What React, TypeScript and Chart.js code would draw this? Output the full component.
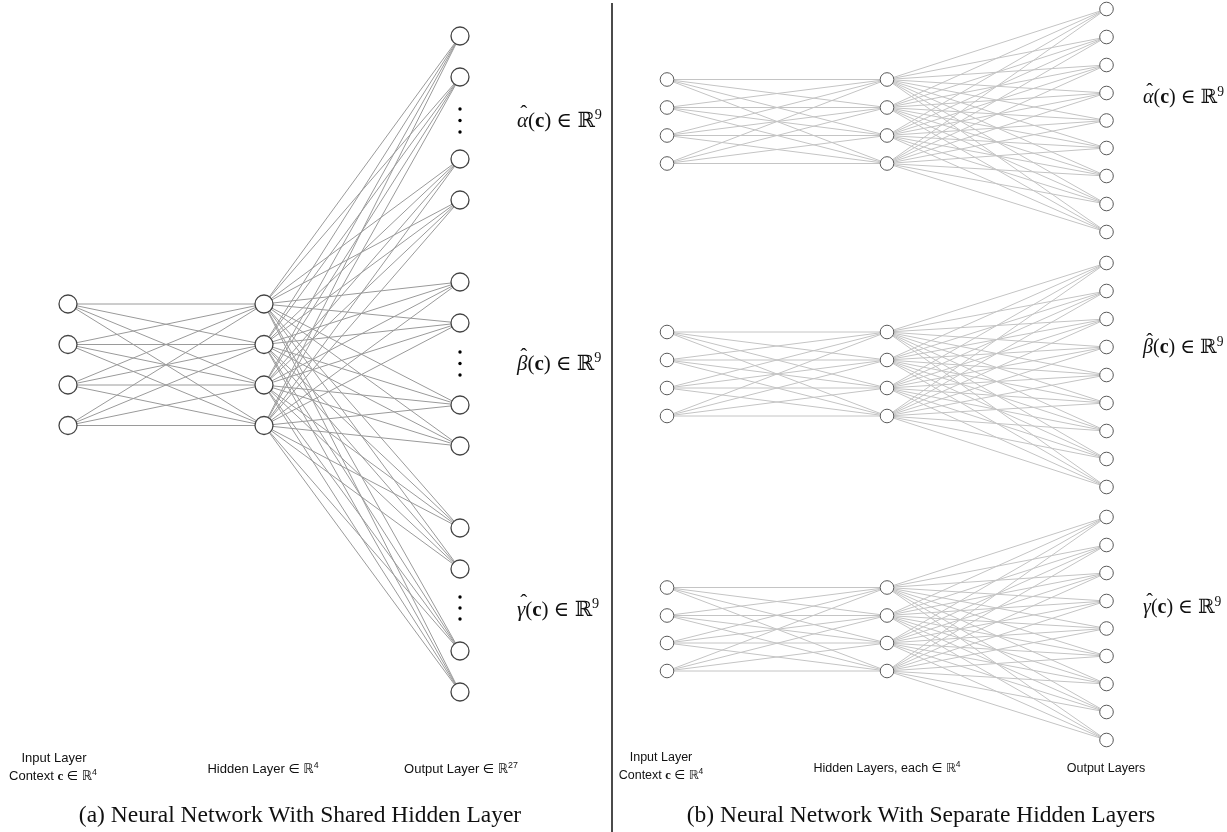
import React, { useEffect, useRef } from "react";
import { Chart, registerables } from "chart.js";

Chart.register(...registerables);

const W = 1227;
const H = 832;

// ---- Panel (a): shared hidden layer (diagram coordinates) ----
const A_LAYER_X = [68, 264, 460];
const A_INPUT_Y = [304, 344.5, 385, 425.5];
const A_HIDDEN_Y = [304, 344.5, 385, 425.5];
const A_OUTPUT_Y = [36, 77, 159, 200, 282, 323, 405, 446, 528, 569, 651, 692];
const A_ELLIPSIS_Y = [109, 120.5, 132, 352, 363.5, 375, 597, 608, 619];

// ---- Panel (b): separate hidden layers ----
const B_LAYER_X = [667, 887, 1106.5];
const B_INPUT_Y = [
  [79.5, 107.5, 135.5, 163.5],
  [332, 360, 388, 416],
  [587.5, 615.5, 643, 671],
];
const B_OUTPUT_Y = [
  [9, 37, 65, 93, 120.5, 148, 176, 204, 232],
  [263, 291, 319, 347, 375, 403, 431, 459, 487],
  [517, 545, 573, 601, 628.5, 656, 684, 712, 740],
];

const DIVIDER_X = [612, 612];
const DIVIDER_Y = [3, 832];

// ---- Text ----
const GREEK = ["α", "β", "γ"];
const A_LABEL_Y = [120, 363, 609];
const B_LABEL_Y = [96, 346, 606];

type P = { x: number; y: number | null };

function fullEdges(x1: number, ys1: number[], x2: number, ys2: number[]): P[] {
  const out: P[] = [];
  ys1.forEach((y1) => {
    ys2.forEach((y2) => {
      out.push({ x: x1, y: y1 }, { x: x2, y: y2 }, { x: x2, y: null });
    });
  });
  return out;
}

function column(x: number, ys: number[]): P[] {
  return ys.map((y) => ({ x, y }));
}

const serif = '"Liberation Serif", "Times New Roman", "DejaVu Serif", serif';
const sans = '"Liberation Sans", Arial, "DejaVu Sans", sans-serif';

function Sup({ t }: { t: string }) {
  return (
    <span style={{ fontSize: "0.68em", position: "relative", top: "-0.55em" }}>{t}</span>
  );
}

function MathLabel({ g }: { g: string }) {
  return (
    <span style={{ fontFamily: serif, whiteSpace: "nowrap" }}>
      <span style={{ position: "relative", fontStyle: "italic" }}>
        {g}
        <span
          style={{
            position: "absolute",
            left: "0.16em",
            top: "-0.22em",
            fontStyle: "normal",
          }}
        >
          ˆ
        </span>
      </span>
      (<b>c</b>) ∈ ℝ<Sup t="9" />
    </span>
  );
}

function Abs({
  x,
  y,
  align = "center",
  children,
  style,
}: {
  x: number;
  y: number;
  align?: "center" | "left";
  children: React.ReactNode;
  style?: React.CSSProperties;
}) {
  return (
    <div
      style={{
        position: "absolute",
        left: x,
        top: y,
        transform: align === "center" ? "translate(-50%, -50%)" : "translate(0, -50%)",
        whiteSpace: "nowrap",
        lineHeight: 1,
        color: "#111",
        ...style,
      }}
    >
      {children}
    </div>
  );
}

export default function App() {
  const ref = useRef<HTMLCanvasElement | null>(null);

  useEffect(() => {
    if (!ref.current) return;

    const aEdges: P[] = [
      ...fullEdges(A_LAYER_X[0], A_INPUT_Y, A_LAYER_X[1], A_HIDDEN_Y),
      ...fullEdges(A_LAYER_X[1], A_HIDDEN_Y, A_LAYER_X[2], A_OUTPUT_Y),
    ];
    const bEdges: P[] = [];
    B_INPUT_Y.forEach((ys, g) => {
      bEdges.push(...fullEdges(B_LAYER_X[0], ys, B_LAYER_X[1], ys));
      bEdges.push(...fullEdges(B_LAYER_X[1], ys, B_LAYER_X[2], B_OUTPUT_Y[g]));
    });

    const aNodes: P[] = [
      ...column(A_LAYER_X[0], A_INPUT_Y),
      ...column(A_LAYER_X[1], A_HIDDEN_Y),
      ...column(A_LAYER_X[2], A_OUTPUT_Y),
    ];
    const bNodes: P[] = [];
    B_INPUT_Y.forEach((ys, g) => {
      bNodes.push(...column(B_LAYER_X[0], ys));
      bNodes.push(...column(B_LAYER_X[1], ys));
      bNodes.push(...column(B_LAYER_X[2], B_OUTPUT_Y[g]));
    });
    const dots = column(A_LAYER_X[2], A_ELLIPSIS_Y);
    const divider: P[] = DIVIDER_X.map((x, i) => ({ x, y: DIVIDER_Y[i] }));

    const chart = new Chart(ref.current, {
      type: "scatter",
      data: {
        datasets: [
          {
            label: "a-nodes",
            data: aNodes as any,
            showLine: false,
            pointRadius: 9,
            pointBackgroundColor: "#ffffff",
            pointBorderColor: "#444444",
            pointBorderWidth: 1.3,
            order: 0,
          },
          {
            label: "b-nodes",
            data: bNodes as any,
            showLine: false,
            pointRadius: 6.8,
            pointBackgroundColor: "#ffffff",
            pointBorderColor: "#5a5a5a",
            pointBorderWidth: 1,
            order: 0,
          },
          {
            label: "ellipsis",
            data: dots as any,
            showLine: false,
            pointRadius: 1.7,
            pointBackgroundColor: "#000000",
            pointBorderWidth: 0,
            order: 0,
          },
          {
            label: "a-edges",
            data: aEdges as any,
            showLine: true,
            spanGaps: false,
            pointRadius: 0,
            borderColor: "#9a9a9a",
            borderWidth: 1,
            order: 5,
          },
          {
            label: "b-edges",
            data: bEdges as any,
            showLine: true,
            spanGaps: false,
            pointRadius: 0,
            borderColor: "#c4c4c4",
            borderWidth: 1,
            order: 5,
          },
          {
            label: "divider",
            data: divider as any,
            showLine: true,
            pointRadius: 0,
            borderColor: "#111111",
            borderWidth: 1.5,
            order: 4,
          },
        ],
      },
      options: {
        animation: false,
        responsive: false,
        maintainAspectRatio: false,
        events: [],
        layout: { padding: 0, autoPadding: false },
        scales: {
          x: { type: "linear", min: 0, max: W, display: false },
          y: { type: "linear", min: 0, max: H, reverse: true, display: false },
        },
        plugins: {
          legend: { display: false },
          tooltip: { enabled: false },
        },
      },
    });
    return () => chart.destroy();
  }, []);

  return (
    <div
      style={{
        position: "absolute",
        left: 0,
        top: 0,
        width: W,
        height: H,
        background: "#fff",
        overflow: "hidden",
      }}
    >
      <canvas ref={ref} width={W} height={H} style={{ position: "absolute", left: 0, top: 0 }} />

      {GREEK.map((g, i) => (
        <Abs key={"a" + g} x={517} y={A_LABEL_Y[i]} align="left" style={{ fontSize: 21 }}>
          <MathLabel g={g} />
        </Abs>
      ))}
      {GREEK.map((g, i) => (
        <Abs key={"b" + g} x={1143} y={B_LABEL_Y[i]} align="left" style={{ fontSize: 20 }}>
          <MathLabel g={g} />
        </Abs>
      ))}

      {/* Panel (a) layer labels */}
      <Abs x={54} y={757} style={{ fontFamily: sans, fontSize: 13 }}>
        Input Layer
      </Abs>
      <Abs x={53} y={775} style={{ fontFamily: sans, fontSize: 13 }}>
        Context <b style={{ fontFamily: serif }}>c</b> ∈ ℝ<Sup t="4" />
      </Abs>
      <Abs x={263} y={768} style={{ fontFamily: sans, fontSize: 13 }}>
        Hidden Layer ∈ ℝ<Sup t="4" />
      </Abs>
      <Abs x={461} y={768} style={{ fontFamily: sans, fontSize: 13 }}>
        Output Layer ∈ ℝ<Sup t="27" />
      </Abs>
      <Abs x={300} y={815} style={{ fontFamily: serif, fontSize: 23.5 }}>
        (a) Neural Network With Shared Hidden Layer
      </Abs>

      {/* Panel (b) layer labels */}
      <Abs x={661} y={757} style={{ fontFamily: sans, fontSize: 12.5 }}>
        Input Layer
      </Abs>
      <Abs x={661} y={775} style={{ fontFamily: sans, fontSize: 12.5 }}>
        Context <b style={{ fontFamily: serif }}>c</b> ∈ ℝ<Sup t="4" />
      </Abs>
      <Abs x={887} y={768} style={{ fontFamily: sans, fontSize: 12.5 }}>
        Hidden Layers, each ∈ ℝ<Sup t="4" />
      </Abs>
      <Abs x={1106} y={768} style={{ fontFamily: sans, fontSize: 12.5 }}>
        Output Layers
      </Abs>
      <Abs x={921} y={815} style={{ fontFamily: serif, fontSize: 23.5 }}>
        (b) Neural Network With Separate Hidden Layers
      </Abs>
    </div>
  );
}
